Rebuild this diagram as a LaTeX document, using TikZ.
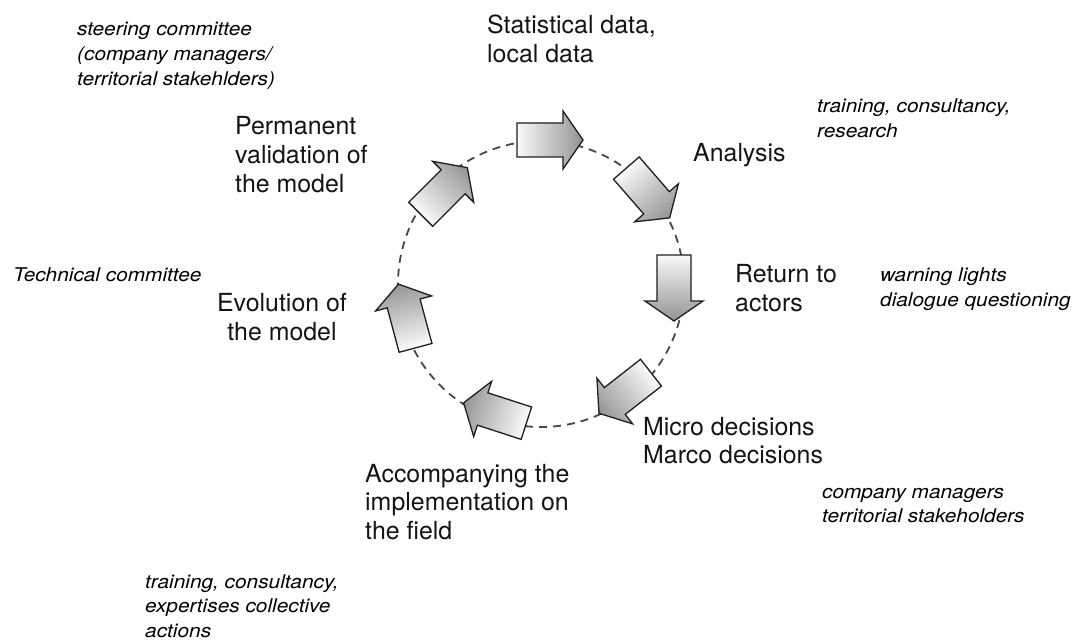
\documentclass[tikz,border=0pt]{standalone}
\usepackage{fontspec}
\setmainfont{TeX Gyre Heros}
\newfontfamily\notefont[FakeStretch=1.1]{TeX Gyre Heros}
% stacked lines with a common first baseline
\newcommand\lstack[1]{\vtop{\halign{##\hfil\cr#1\crcr}}}
\newcommand\cstack[1]{\vtop{\halign{\hfil##\hfil\cr#1\crcr}}}
% outline of one block arrow, tail at -33, tip at +33
\newcommand\arrowoutline{(-33,-17) -- (13,-17) -- (13,-29) -- (33,0) -- (13,29) -- (13,17) -- (-33,17) -- cycle}
\begin{document}
\begin{tikzpicture}[x=1bp,y=-1bp,
  stagelabel/.style={anchor=base west, inner sep=0pt, text=black!92,
    font=\fontsize{25}{29}\selectfont},
  note/.style={anchor=base west, inner sep=0pt, text=black,
    font=\notefont\itshape\fontsize{19}{25}\selectfont},
  cycleline/.style={draw=black!72, line width=1.8bp, dash pattern=on 8bp off 6bp},
  flowedge/.style={draw=black!88, line width=1.3bp, line join=miter},
  pics/flowarrow/.style={code={
    % gradient from a pale tail to a grey head, laid in strips along the arrow
    \begin{scope}
      \clip \arrowoutline;
      \foreach \i in {0,...,33} {
        \pgfmathsetmacro\shadepc{2+40*\i/33}
        \fill[black!\shadepc] (-34+2*\i,-31) rectangle (-31.5+2*\i,31);
      }
    \end{scope}
    \path[flowedge] \arrowoutline;}}]
\useasboundingbox (0,0) rectangle (1079,642);

% the dashed cycle
\node[cycleline, circle, minimum size=286bp, inner sep=0pt] (loop) at (541,284) {};

% block arrows around the cycle
\pic[rotate=0]    (a1) at (550,140) {flowarrow};
\pic[rotate=-49]  (a2) at (648,193) {flowarrow};
\pic[rotate=-90]  (a3) at (674,288) {flowarrow};
\pic[rotate=-142] (a4) at (625,393) {flowarrow};
\pic[rotate=162]  (a5) at (495,413) {flowarrow};
\pic[rotate=105]  (a6) at (407,316) {flowarrow};
\pic[rotate=45]   (a7) at (444,191) {flowarrow};

% stages
\node[stagelabel] (data) at (487,34) {\lstack{Statistical data,\cr local data}};
\node[stagelabel] (analysis) at (693,162) {Analysis};
\node[stagelabel] (return) at (735,283) {\lstack{Return to\cr actors}};
\node[stagelabel] (decisions) at (643,435) {\lstack{Micro decisions\cr Marco decisions}};
\node[stagelabel] (field) at (365,482) {\lstack{Accompanying the\cr implementation on\cr the field}};
\node[stagelabel, anchor=base] (evolution) at (282,312) {\cstack{Evolution of\cr the model}};
\node[stagelabel] (validation) at (235,135) {\lstack{Permanent\cr validation of\cr the model}};

% actors and means
\node[note] (steering) at (77,36) {\lstack{steering committee\cr (company managers/\cr territorial stakehlders)}};
\node[note] (research) at (817,113) {\lstack{training, consultancy,\cr research}};
\node[note] (signals) at (880,282) {\lstack{warning lights\cr dialogue questioning}};
\node[note] (technical) at (13,282) {Technical committee};
\node[note] (managers) at (822,498) {\lstack{company managers\cr territorial stakeholders}};
\node[note] (expertise) at (145,588) {\lstack{training, consultancy,\cr expertises collective\cr actions}};
\end{tikzpicture}
\end{document}
